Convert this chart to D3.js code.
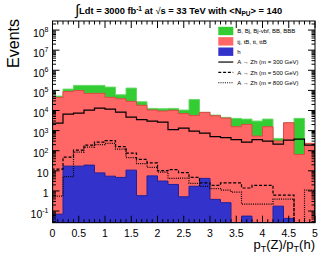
<!DOCTYPE html>
<html>
<head>
<meta charset="utf-8">
<script src="https://cdn.jsdelivr.net/npm/d3@7"></script>
<style>
body { margin:0; background:#fff; }
svg { display:block; font-family:"Liberation Sans", Arial, Helvetica, sans-serif; }
</style>
</head>
<body>
<svg id="chart" width="332" height="257"></svg>
<script>
// binning of pT(Z)/pT(h)
var xMin = 0, xMax = 5, nBins = 25;

// backgrounds (events per bin, stacked h -> tt -> multijet)
var higgs    = [0.07, 17.1, 17.1, 19.2, 7.9, 5.4, 4.7, 10.8, 0.58, 5.6, 3.1, 2.1, 0.51, 1.7, 4.2, 0.38, 0.26, 0, 0.056, 0, 0, 0.175, 0.043, 0, 0];
var ttbar    = [44900, 87100, 97700, 70900, 70900, 44900, 38200, 28400, 18100, 10500, 9330, 10200, 7010, 5570, 8040, 5450, 4190, 1550, 2030, 532, 1550, 301, 2440, 65, 231];
var multijet = [7100, 28900, 79300, 106000, 106000, 101000, 22200, 101600, 9000, 2200, 2870, 2500, 3490, 29200, 0, 450, 350, 2500, 1700, 2440, 2180, 108, 0, 3990, 0];

// signals A -> Zh
var sig300 = [2360, 6620, 7430, 10500, 13200, 11700, 8320, 4700, 3530, 2970, 2650, 1120, 1330, 944, 751, 503, 449, 357, 268, 357, 301, 213, 337, 378, 190];
var sig500 = [12.2, 48, 107, 190, 268, 318, 160, 76, 37, 25, 10.2, 11.5, 8.1, 4.7, 2.5, 1.9, 2.5, 2.5, 1.4, 1.9, 1.9, 0.62, 0.62, 0, 0];
var sig800 = [0.55, 5.1, 85, 151, 201, 231, 120, 45, 23, 15, 8.6, 4.2, 4.3, 2.4, 1.7, 1.3, 1.1, 0.87, 0.22, 0.22, 0.22, 0.39, 0.39, 0, 1.1];

var legendLabels = ["B, Bj, Bj-vbf, BB, BBB", "tj, tB, tt, ttB", "h",
                    "A \u2192 Zh (m = 300 GeV)", "A \u2192 Zh (m = 500 GeV)", "A \u2192 Zh (m = 800 GeV)"];
var yDecades = [-1, 0, 1, 2, 3, 4, 5, 6, 7, 8];

(function(d3) {
  var W = 332, H = 257;
  var fr = {left: 52.5, right: 315, top: 21, bottom: 222.7};
  var col = {
    green: "#33cc33", greenLine: "#66d866",
    red: "#ff6666", redLine: "#e04848",
    blue: "#3333cc", blueLine: "#20209a"
  };

  var svg = d3.select("#chart");
  svg.append("rect").attr("width", W).attr("height", H).attr("fill", "#fff");

  var x = d3.scaleLinear().domain([xMin, xMax]).range([fr.left, fr.right]);
  var y = d3.scaleLog().domain([Math.pow(10, -1.58), Math.pow(10, 8.45)])
            .range([fr.bottom, fr.top]).clamp(true);
  var edges = d3.range(nBins + 1).map(function(i) { return xMin + i * (xMax - xMin) / nBins });

  function yv(v) { return v > 0 ? y(v) : fr.bottom }
  function stepPath(vals, closed) {
    var p = d3.path();
    p.moveTo(x(edges[0]), fr.bottom);
    vals.forEach(function(v, i) {
      p.lineTo(x(edges[i]), yv(v));
      p.lineTo(x(edges[i + 1]), yv(v));
    });
    p.lineTo(x(edges[nBins]), fr.bottom);
    if (closed) p.closePath();
    return p.toString();
  }

  var ttTop = higgs.map(function(h, i) { return h + ttbar[i] });
  var allTop = ttTop.map(function(t, i) { return t + multijet[i] });

  svg.append("defs").append("clipPath").attr("id", "frame-clp")
     .append("rect").attr("x", fr.left).attr("y", fr.top)
     .attr("width", fr.right - fr.left).attr("height", fr.bottom - fr.top);

  var plot = svg.append("g").attr("clip-path", "url(#frame-clp)");

  [[allTop, col.green, col.greenLine], [ttTop, col.red, col.redLine], [higgs, col.blue, col.blueLine]]
    .forEach(function(s) {
      plot.append("path").attr("d", stepPath(s[0], true))
          .attr("fill", s[1]).attr("stroke", s[2]).attr("stroke-width", 1);
    });

  var sigStyles = [[sig300, null], [sig500, "3,1.8"], [sig800, "1,1.2"]];
  sigStyles.forEach(function(s) {
    plot.append("path").attr("d", stepPath(s[0], false))
        .attr("fill", "none").attr("stroke", "#000").attr("stroke-width", 1.2)
        .attr("stroke-dasharray", s[1]);
  });

  // axes
  var ax = svg.append("g").attr("stroke", "#000").attr("stroke-width", 1);
  var majL = 7, minL = 3.5;

  // x ticks bottom and top
  var xMinor = d3.range(0, 51).map(function(i) { return i / 10 });
  xMinor.forEach(function(t) {
    var isMaj = Math.abs(t * 2 - Math.round(t * 2)) < 1e-6;
    var l = isMaj ? majL : minL, px = x(t);
    ax.append("line").attr("x1", px).attr("x2", px).attr("y1", fr.bottom).attr("y2", fr.bottom - l);
    ax.append("line").attr("x1", px).attr("x2", px).attr("y1", fr.top).attr("y2", fr.top + l);
  });

  // y ticks left and right
  d3.range(-2, 9).forEach(function(e) {
    d3.range(1, 10).forEach(function(m) {
      var v = m * Math.pow(10, e);
      if (v < y.domain()[0] || v > y.domain()[1]) return;
      var l = m == 1 ? majL : minL, py = y(v);
      ax.append("line").attr("x1", fr.left).attr("x2", fr.left + l).attr("y1", py).attr("y2", py);
      ax.append("line").attr("x1", fr.right).attr("x2", fr.right - l).attr("y1", py).attr("y2", py);
    });
  });

  svg.append("rect").attr("x", fr.left).attr("y", fr.top)
     .attr("width", fr.right - fr.left).attr("height", fr.bottom - fr.top)
     .attr("fill", "none").attr("stroke", "#000").attr("stroke-width", 1);

  // tick labels
  var fmt = d3.format("~g");
  svg.append("g").selectAll("text").data(x.ticks(10)).join("text")
     .attr("x", function(d) { return x(d) }).attr("y", 236.5)
     .attr("text-anchor", "middle").attr("font-size", 10.5).text(function(d) { return fmt(d) });

  var yl = svg.append("g").attr("font-size", 10.5);
  yDecades.forEach(function(e) {
    var t = yl.append("text").attr("x", 48.5).attr("y", y(Math.pow(10, e)) + 6.5).attr("text-anchor", "end");
    if (e == 0) t.text("1");
    else if (e == 1) t.text("10");
    else {
      t.append("tspan").text("10");
      t.append("tspan").attr("font-size", 7).attr("dy", -4.5).text(e);
    }
  });

  // axis titles
  svg.append("text").attr("transform", "translate(18.5,19) rotate(-90)")
     .attr("text-anchor", "end").attr("font-size", 16).text("Events");

  var xt = svg.append("text").attr("x", 315).attr("y", 249).attr("text-anchor", "end").attr("font-size", 13);
  xt.append("tspan").text("p");
  xt.append("tspan").attr("font-size", 9).attr("dy", 3).text("T");
  xt.append("tspan").attr("dy", -3).text("(Z)/p");
  xt.append("tspan").attr("font-size", 9).attr("dy", 3).text("T");
  xt.append("tspan").attr("dy", -3).text("(h)");

  // header
  var tt = svg.append("text").attr("x", 75).attr("y", 14).attr("font-size", 9.3).attr("font-weight", "bold");
  tt.append("tspan").attr("font-size", 15).attr("font-weight", "normal").attr("dy", 1).text("\u222b");
  tt.append("tspan").attr("dy", -1).text("Ldt = 3000 fb");
  tt.append("tspan").attr("font-size", 6.5).attr("dy", -3.5).text("-1");
  tt.append("tspan").attr("dy", 3.5).text(" at ");
  tt.append("tspan").attr("font-weight", "normal").text("\u221a");
  tt.append("tspan").text("s = 33 TeV with <N");
  tt.append("tspan").attr("font-size", 6.5).attr("dy", 2).text("PU");
  tt.append("tspan").attr("dy", -2).text("> = 140");

  // legend
  var lg = svg.append("g").attr("font-size", 6);
  var rowY = function(i) { return 31 + i * 10.35 };
  [col.green, col.red, col.blue].forEach(function(c, i) {
    lg.append("rect").attr("x", 218.3).attr("y", rowY(i) - 4.2).attr("width", 15).attr("height", 8.4).attr("fill", c);
  });
  [null, "3,1.8", "1,1.2"].forEach(function(da, i) {
    lg.append("line").attr("x1", 218.3).attr("x2", 233.3).attr("y1", rowY(i + 3)).attr("y2", rowY(i + 3))
      .attr("stroke", "#000").attr("stroke-width", 1.2).attr("stroke-dasharray", da);
  });
  legendLabels.forEach(function(l, i) {
    lg.append("text").attr("x", 237.3).attr("y", rowY(i) + 2.2).text(l);
  });
})(d3);
</script>
</body>
</html>
